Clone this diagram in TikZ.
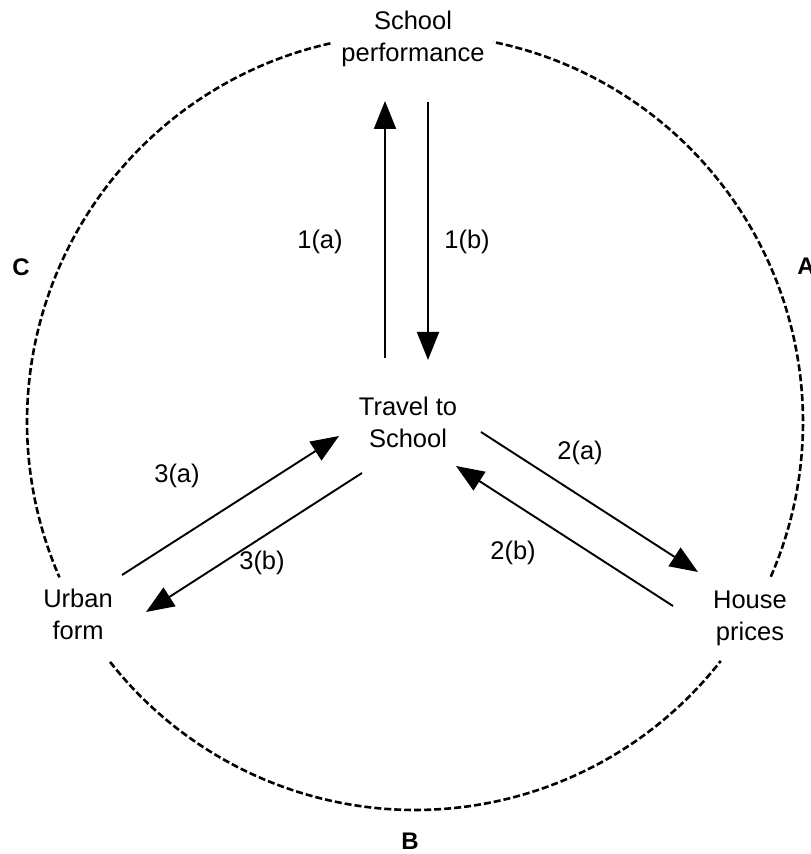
\documentclass[tikz,border=0pt]{standalone}
\usepackage{fontspec}
\setmainfont{Liberation Sans}
\usetikzlibrary{arrows.meta}
\begin{document}
\begin{tikzpicture}[x=1pt,y=1pt,
  lbl/.style={font=\fontsize{25.5}{32}\selectfont, align=center, inner sep=0pt},
  corner/.style={font=\fontsize{24}{28}\selectfont\bfseries, inner sep=0pt},
  link/.style={line width=1.9pt, -{Triangle[length=28pt,width=22pt]}},
  ring/.style={line width=2.6pt, dash pattern=on 7pt off 3pt}]
\useasboundingbox (0,0) rectangle (811,854);
\coordinate (ctr) at (415,432);
% dashed circle segments
\draw[ring] ([shift={(102.6:388pt)}]ctr) arc[start angle=102.6, end angle=203.6, radius=388pt];
\draw[ring] ([shift={(218.2:388pt)}]ctr) arc[start angle=218.2, end angle=322, radius=388pt];
\draw[ring] ([shift={(336.5:388pt)}]ctr) arc[start angle=336.5, end angle=438.4, radius=388pt];
% main nodes
\node[lbl] (sp) at (413,815) {School\\performance};
\node[lbl] (tts) at (408,432) {Travel to\\School};
\node[lbl] (uf) at (78,240) {Urban\\form};
\node[lbl] (hp) at (750,236) {House\\prices};
% corner letters
\node[corner] (A) at (806,588) {A};
\node[corner] (B) at (410,13) {B};
\node[corner] (C) at (21,587) {C};
% arrow end points
\coordinate (a1s) at (385,496); \coordinate (a1e) at (385,753);
\coordinate (b1s) at (428,752); \coordinate (b1e) at (428,494);
\coordinate (a2s) at (481,422); \coordinate (a2e) at (698,282);
\coordinate (b2s) at (673,248); \coordinate (b2e) at (456,388);
\coordinate (a3s) at (122,279); \coordinate (a3e) at (339,418);
\coordinate (b3s) at (362,381); \coordinate (b3e) at (146,242);
\draw[link] (a1s) -- (a1e);
\draw[link] (b1s) -- (b1e);
\draw[link] (a2s) -- (a2e);
\draw[link] (b2s) -- (b2e);
\draw[link] (a3s) -- (a3e);
\draw[link] (b3s) -- (b3e);
% arrow labels
\node[lbl] (l1a) at (320,612) {1(a)};
\node[lbl] (l1b) at (467,612) {1(b)};
\node[lbl] (l2a) at (580,401) {2(a)};
\node[lbl] (l2b) at (513,301) {2(b)};
\node[lbl] (l3a) at (177,378) {3(a)};
\node[lbl] (l3b) at (262,291) {3(b)};
\end{tikzpicture}
\end{document}
